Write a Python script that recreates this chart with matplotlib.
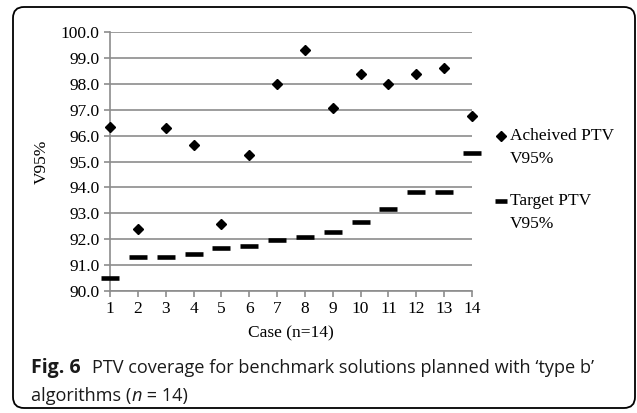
import matplotlib
matplotlib.use("Agg")
import matplotlib.pyplot as plt
from matplotlib.patches import FancyBboxPatch
from matplotlib.lines import Line2D

# ── Données ──────────────────────────────────────────────────
cases    = list(range(1, 15))
achieved = [96.35, 92.38, 96.28, 95.65, 92.58, 95.27, 97.98,
            99.30, 97.07, 98.38, 97.98, 98.38, 98.60, 96.77]
target   = [90.52, 91.32, 91.32, 91.42, 91.67, 91.72, 91.98,
            92.07, 92.28, 92.67, 93.18, 93.84, 93.84, 95.32]
yticks   = [90 + i for i in range(11)]
W, H = 637, 413

plt.rcParams["font.family"] = "Liberation Serif"
grey = "#8c8c8c"
fs = 12.5

fig = plt.figure(figsize=(W / 100, H / 100), dpi=100)

# cadre arrondi (coordonnées pixels)
bg = fig.add_axes([0, 0, 1, 1])
bg.set_xlim(0, W)
bg.set_ylim(H, 0)
bg.axis("off")
bg.add_patch(FancyBboxPatch((13, 7), 622, 401,
                            boxstyle="round,pad=0,rounding_size=11",
                            fc="white", ec="black", lw=1.3))

# ── Graphique ────────────────────────────────────────────────
x0, x1, y0, y1 = 110, 472, 32, 291
ax = fig.add_axes([x0 / W, 1 - y1 / H, (x1 - x0) / W, (y1 - y0) / H])
ax.set_facecolor("none")
ax.set_xlim(1, 14)
ax.set_ylim(90, 100)
ax.set_yticks(yticks)
ax.set_yticklabels([f"{v:.1f}" for v in yticks])
ax.set_xticks(cases)
ax.grid(axis="y", color=grey, lw=1.2)
ax.set_axisbelow(True)
for s in ("top", "right"):
    ax.spines[s].set_visible(False)
for s in ("left", "bottom"):
    ax.spines[s].set_color(grey)
    ax.spines[s].set_linewidth(1.2)
ax.tick_params(colors=grey, length=4, width=1.2, labelcolor="black",
               labelsize=fs)

ax.plot(cases, achieved, ls="none", marker="D", ms=5.5, color="black",
        clip_on=False, zorder=3)
ax.plot(cases, target, ls="none", marker="_", ms=13, mew=3.3,
        color="black", clip_on=False, zorder=3)

ax.set_ylabel("V95%", fontsize=fs, labelpad=8)
ax.set_xlabel("Case (n=14)", fontsize=fs, labelpad=6)

# ── Légende ──────────────────────────────────────────────────
bg.add_line(Line2D([501], [136], ls="none", marker="D", ms=5.5, color="black"))
bg.text(510, 136, "Acheived PTV", fontsize=fs, va="center")
bg.text(510, 159, "V95%", fontsize=fs, va="center")
bg.add_line(Line2D([501], [201], ls="none", marker="_", ms=8, mew=3.3, color="black"))
bg.text(510, 201, "Target PTV", fontsize=fs, va="center")
bg.text(510, 224, "V95%", fontsize=fs, va="center")

# ── Légende de figure ────────────────────────────────────────
cap = "Open Sans"
cfs = 13.1
ccol = "#1a1a1a"
bg.text(31, 373, "Fig. 6", fontfamily=cap, fontweight="bold", fontsize=14,
        va="baseline", color=ccol)
bg.text(92, 373, "PTV coverage for benchmark solutions planned with \u2018type b\u2019",
        fontfamily=cap, fontsize=cfs, va="baseline", color=ccol)
t1 = bg.text(31, 401, "algorithms (", fontfamily=cap, fontsize=cfs, va="baseline",
             color=ccol)

fig.canvas.draw()
r = fig.canvas.get_renderer()
inv = bg.transData.inverted()
xn = inv.transform((t1.get_window_extent(r).x1, 0))[0]
t2 = bg.text(xn, 401, "n", fontfamily=cap, fontstyle="italic", fontsize=cfs,
             va="baseline", color=ccol)
xr = inv.transform((t2.get_window_extent(r).x1, 0))[0]
bg.text(xr, 401, " = 14)", fontfamily=cap, fontsize=cfs, va="baseline",
        color=ccol)

fig.savefig("out.png", dpi=100)
